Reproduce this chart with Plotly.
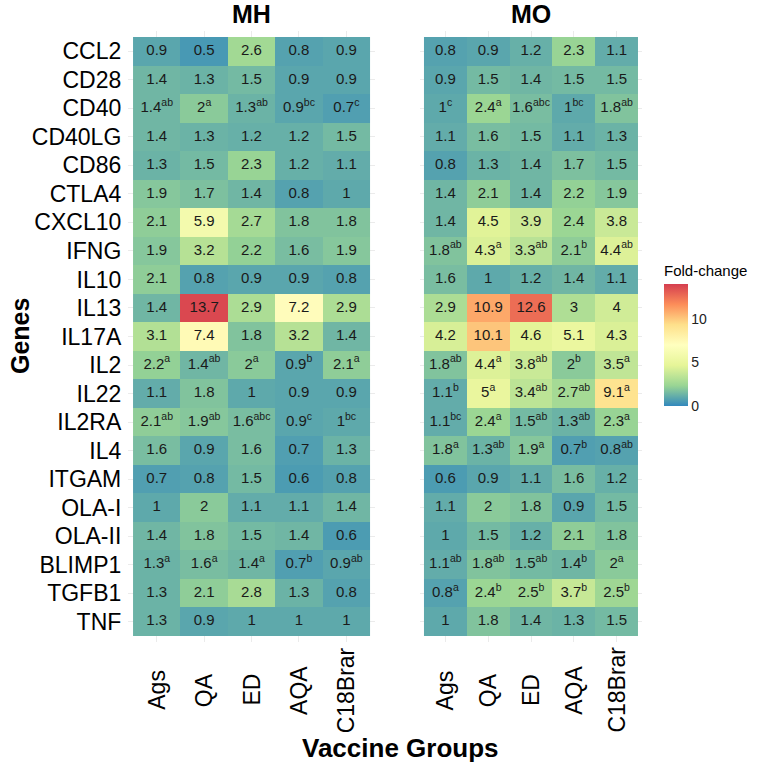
import plotly.graph_objects as go

genes = ["CCL2", "CD28", "CD40", "CD40LG", "CD86", "CTLA4", "CXCL10", "IFNG", "IL10",
         "IL13", "IL17A", "IL2", "IL22", "IL2RA", "IL4", "ITGAM", "OLA-I", "OLA-II",
         "BLIMP1", "TGFB1", "TNF"]
groups = ["Ags", "QA", "ED", "AQA", "C18Brar"]

mh_values = [
    [0.9, 0.5, 2.6, 0.8, 0.9],
    [1.4, 1.3, 1.5, 0.9, 0.9],
    [1.4, 2.0, 1.3, 0.9, 0.7],
    [1.4, 1.3, 1.2, 1.2, 1.5],
    [1.3, 1.5, 2.3, 1.2, 1.1],
    [1.9, 1.7, 1.4, 0.8, 1.0],
    [2.1, 5.9, 2.7, 1.8, 1.8],
    [1.9, 3.2, 2.2, 1.6, 1.9],
    [2.1, 0.8, 0.9, 0.9, 0.8],
    [1.4, 13.7, 2.9, 7.2, 2.9],
    [3.1, 7.4, 1.8, 3.2, 1.4],
    [2.2, 1.4, 2.0, 0.9, 2.1],
    [1.1, 1.8, 1.0, 0.9, 0.9],
    [2.1, 1.9, 1.6, 0.9, 1.0],
    [1.6, 0.9, 1.6, 0.7, 1.3],
    [0.7, 0.8, 1.5, 0.6, 0.8],
    [1.0, 2.0, 1.1, 1.1, 1.4],
    [1.4, 1.8, 1.5, 1.4, 0.6],
    [1.3, 1.6, 1.4, 0.7, 0.9],
    [1.3, 2.1, 2.8, 1.3, 0.8],
    [1.3, 0.9, 1.0, 1.0, 1.0],
]
mh_letters = [
    ["", "", "", "", ""],
    ["", "", "", "", ""],
    ["ab", "a", "ab", "bc", "c"],
    ["", "", "", "", ""],
    ["", "", "", "", ""],
    ["", "", "", "", ""],
    ["", "", "", "", ""],
    ["", "", "", "", ""],
    ["", "", "", "", ""],
    ["", "", "", "", ""],
    ["", "", "", "", ""],
    ["a", "ab", "a", "b", "a"],
    ["", "", "", "", ""],
    ["ab", "ab", "abc", "c", "bc"],
    ["", "", "", "", ""],
    ["", "", "", "", ""],
    ["", "", "", "", ""],
    ["", "", "", "", ""],
    ["a", "a", "a", "b", "ab"],
    ["", "", "", "", ""],
    ["", "", "", "", ""],
]

mo_values = [
    [0.8, 0.9, 1.2, 2.3, 1.1],
    [0.9, 1.5, 1.4, 1.5, 1.5],
    [1.0, 2.4, 1.6, 1.0, 1.8],
    [1.1, 1.6, 1.5, 1.1, 1.3],
    [0.8, 1.3, 1.4, 1.7, 1.5],
    [1.4, 2.1, 1.4, 2.2, 1.9],
    [1.4, 4.5, 3.9, 2.4, 3.8],
    [1.8, 4.3, 3.3, 2.1, 4.4],
    [1.6, 1.0, 1.2, 1.4, 1.1],
    [2.9, 10.9, 12.6, 3.0, 4.0],
    [4.2, 10.1, 4.6, 5.1, 4.3],
    [1.8, 4.4, 3.8, 2.0, 3.5],
    [1.1, 5.0, 3.4, 2.7, 9.1],
    [1.1, 2.4, 1.5, 1.3, 2.3],
    [1.8, 1.3, 1.9, 0.7, 0.8],
    [0.6, 0.9, 1.1, 1.6, 1.2],
    [1.1, 2.0, 1.8, 0.9, 1.5],
    [1.0, 1.5, 1.2, 2.1, 1.8],
    [1.1, 1.8, 1.5, 1.4, 2.0],
    [0.8, 2.4, 2.5, 3.7, 2.5],
    [1.0, 1.8, 1.4, 1.3, 1.5],
]
mo_letters = [
    ["", "", "", "", ""],
    ["", "", "", "", ""],
    ["c", "a", "abc", "bc", "ab"],
    ["", "", "", "", ""],
    ["", "", "", "", ""],
    ["", "", "", "", ""],
    ["", "", "", "", ""],
    ["ab", "a", "ab", "b", "ab"],
    ["", "", "", "", ""],
    ["", "", "", "", ""],
    ["", "", "", "", ""],
    ["ab", "a", "ab", "b", "a"],
    ["b", "a", "ab", "ab", "a"],
    ["bc", "a", "ab", "ab", "a"],
    ["a", "ab", "a", "b", "ab"],
    ["", "", "", "", ""],
    ["", "", "", "", ""],
    ["", "", "", "", ""],
    ["ab", "ab", "ab", "b", "a"],
    ["a", "b", "b", "b", "b"],
    ["", "", "", "", ""],
]

colorbar_ticks = [0, 5, 10]
spectral = ["#3288bd", "#99d594", "#e6f598", "#ffffbf", "#fee08b", "#fc8d59", "#d53e4f"]
colorscale = [[i / (len(spectral) - 1), c] for i, c in enumerate(spectral)]

FONT = "Liberation Sans, Arial, sans-serif"
W, H = 758, 770


def fmt(v):
    s = f"{v:.1f}"
    return s[:-2] if s.endswith(".0") else s


def labels(vals, lets):
    out = []
    for rv, rl in zip(vals, lets):
        row = []
        for v, l in zip(rv, rl):
            t = fmt(v)
            if l:
                t += f"<sup>{l}</sup>"
            row.append(t)
        out.append(row)
    return out


fig = go.Figure()
panels = [("x", "y", mh_values, mh_letters), ("x2", "y2", mo_values, mo_letters)]
for xa, ya, vals, lets in panels:
    fig.add_trace(go.Heatmap(
        z=vals, x=groups, y=genes, coloraxis="coloraxis",
        xaxis=xa, yaxis=ya, hoverinfo="skip",
    ))
    txt = labels(vals, lets)
    xs, ys, ts = [], [], []
    for gi, g in enumerate(genes):
        for ci, c in enumerate(groups):
            xs.append(c)
            ys.append(g)
            ts.append(txt[gi][ci])
    fig.add_trace(go.Scatter(
        x=xs, y=ys, text=ts, mode="text", xaxis=xa, yaxis=ya,
        textfont=dict(family=FONT, size=15, color="#1a1a1a"),
        showlegend=False, hoverinfo="skip",
    ))

ydom = [(H - 641.7) / H, (H - 31.3) / H]
ex, ey = 0.1, 0.2
xrange_ = [-0.5 - ex, len(groups) - 0.5 + ex]
yrange_ = [len(genes) - 0.5 + ey, -0.5 - ey]

axis_common = dict(showgrid=True, gridcolor="#ebebeb", gridwidth=1, zeroline=False,
                   showline=False, ticks="", type="category")

fig.update_layout(
    width=W, height=H,
    margin=dict(l=0, r=0, t=0, b=0),
    plot_bgcolor="white", paper_bgcolor="white",
    font=dict(family=FONT, color="black"),
    xaxis=dict(domain=[128.3 / W, 374.8 / W], range=xrange_, showticklabels=False,
               categoryorder="array", categoryarray=groups, **axis_common),
    xaxis2=dict(domain=[419.7 / W, 642.3 / W], range=xrange_, showticklabels=False,
                categoryorder="array", categoryarray=groups, **axis_common),
    yaxis=dict(domain=ydom, range=yrange_, anchor="x", categoryorder="array",
               categoryarray=genes, tickmode="array", tickvals=genes, ticktext=genes,
               tickfont=dict(size=23, color="black"),
               ticklabelstandoff=6, **axis_common),
    yaxis2=dict(domain=ydom, range=yrange_, anchor="x2", showticklabels=False,
                categoryorder="array", categoryarray=genes, tickmode="array",
                tickvals=genes, **axis_common),
    coloraxis=dict(
        colorscale=colorscale, cmin=0, cmax=14,
        colorbar=dict(
            x=664 / W, xanchor="left", xpad=0,
            y=(H - 406) / H, yanchor="bottom", ypad=0,
            len=144, lenmode="pixels", thickness=24, outlinewidth=0,
            tickvals=colorbar_ticks, ticks="", tickfont=dict(size=14, color="#222"),
            title=dict(text="Fold-change", side="top", font=dict(size=15, color="black")),
        ),
    ),
)

annotations = []
for xa, title, cx in [("x", "MH", 251.5), ("x2", "MO", 531)]:
    annotations.append(dict(text=f"<b>{title}</b>", xref="paper", yref="paper",
                            x=cx / W, y=(H - 14) / H, showarrow=False,
                            xanchor="center", yanchor="middle", font=dict(size=25)))
    for g in groups:
        annotations.append(dict(text=g, xref=xa, yref="paper", x=g, y=(H - 690) / H,
                                showarrow=False, textangle=-90, xanchor="center",
                                yanchor="middle", font=dict(size=23, color="black")))
annotations.append(dict(text="<b>Vaccine Groups</b>", xref="paper", yref="paper",
                        x=400 / W, y=(H - 748) / H, showarrow=False,
                        xanchor="center", yanchor="middle", font=dict(size=26)))
annotations.append(dict(text="<b>Genes</b>", xref="paper", yref="paper",
                        x=20 / W, y=(H - 336) / H, showarrow=False, textangle=-90,
                        xanchor="center", yanchor="middle", font=dict(size=25)))
fig.update_layout(annotations=annotations)

fig.write_html("out.html", config={"displayModeBar": False},
               post_script="document.body.style.margin='0px';")
